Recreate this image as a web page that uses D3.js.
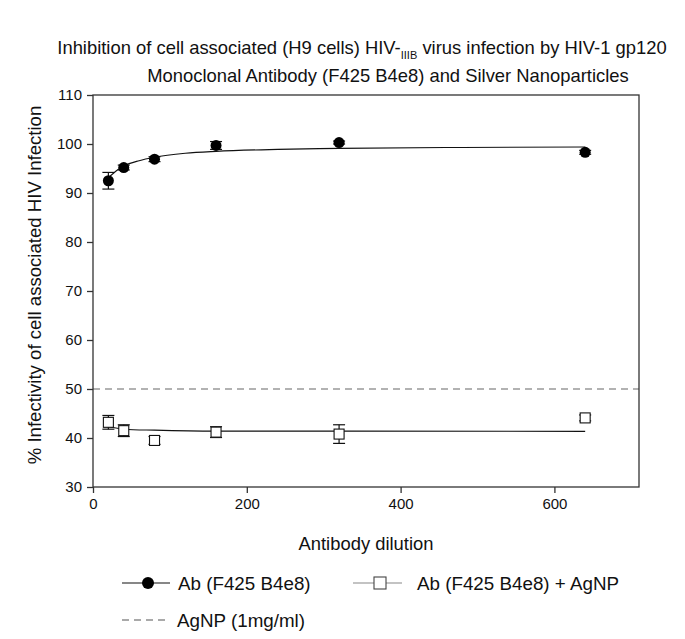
<!DOCTYPE html>
<html>
<head>
<meta charset="utf-8">
<script src="https://cdn.jsdelivr.net/npm/d3@7"></script>
<style>
  body { margin: 0; background: #fff; }
  text { font-family: "Liberation Sans", Arial, sans-serif; fill: #111; }
</style>
</head>
<body>
<div id="chart"></div>
<script>
// dilutions used for both series
var dilutions = [20, 40, 80, 160, 320, 640];

// antibody alone
var abMean = [92.5, 95.2, 96.9, 99.7, 100.3, 98.3];
var abErr  = [1.7, 0.5, 0.5, 0.8, 0.3, 0.4];
// antibody + AgNP
var agMean = [43.2, 41.5, 39.5, 41.2, 40.8, 44.1];
var agErr  = [1.4, 1.2, 0.8, 1.1, 1.9, 0.6];

// fitted curves
var abFitX = [20, 30, 40, 60, 80, 120, 160, 240, 320, 480, 640];
var abFitY = [93.1, 94.5, 95.5, 96.6, 97.3, 98.1, 98.5, 98.9, 99.1, 99.3, 99.4];
var agFitX = [20, 40, 80, 160, 320, 640];
var agFitY = [42.4, 41.8, 41.6, 41.4, 41.4, 41.35];

var agnpLevel = 50;

var yTicks = [30, 40, 50, 60, 70, 80, 90, 100, 110];
var xTicks = [0, 200, 400, 600];

var margin = {top: 95, right: 46, bottom: 152, left: 93}
  , width = 685 - margin.left - margin.right
  , height = 639 - margin.top - margin.bottom;

var svg = d3.select("#chart").append("svg")
    .attr("width", 685)
    .attr("height", 639);

var g = svg.append("g")
    .attr("transform", "translate(" + margin.left + "," + margin.top + ")");

var x = d3.scaleLinear().domain([0, 710]).range([0, width]);
var y = d3.scaleLinear().domain([30, 110]).range([height, 0]);

// title
var title = svg.append("text")
    .attr("text-anchor", "middle")
    .style("font-size", "18.4px");
var t1 = title.append("tspan").attr("x", 362).attr("y", 54);
t1.append("tspan").text("Inhibition of cell associated (H9 cells) HIV-");
t1.append("tspan").attr("dy", 5).style("font-size", "11px").text("IIIB");
t1.append("tspan").attr("dy", -5).text(" virus infection by HIV-1 gp120");
title.append("tspan").attr("x", 388).attr("y", 82)
    .text("Monoclonal Antibody (F425 B4e8) and Silver Nanoparticles");

// dashed AgNP reference
g.append("line")
    .attr("x1", 0).attr("x2", width)
    .attr("y1", y(agnpLevel)).attr("y2", y(agnpLevel))
    .attr("stroke", "#666").attr("stroke-width", 1.2)
    .attr("stroke-dasharray", "7,5");

// box
g.append("rect")
    .attr("width", width).attr("height", height)
    .attr("fill", "none").attr("stroke", "#333").attr("stroke-width", 1.3);

// axes
var yAxis = g.append("g")
    .call(d3.axisLeft(y).tickValues(yTicks).tickSize(6).tickSizeOuter(0));
var xAxis = g.append("g")
    .attr("transform", "translate(0," + height + ")")
    .call(d3.axisBottom(x).tickValues(xTicks).tickSize(6).tickSizeOuter(0));
[yAxis, xAxis].forEach(function(a) {
  a.select(".domain").remove();
  a.selectAll("line").attr("stroke", "#333").attr("stroke-width", 1.3);
  a.selectAll("text").style("font-size", "15px").attr("fill", "#111")
    .style("font-family", "'Liberation Sans', Arial, sans-serif");
});
yAxis.selectAll("text").attr("x", -11);
xAxis.selectAll("text").attr("y", 11);

// axis titles
svg.append("text")
    .attr("transform", "translate(41," + (margin.top + height / 2 - 6) + ") rotate(-90)")
    .attr("text-anchor", "middle")
    .style("font-size", "18.6px")
    .text("% Infectivity of cell associated HIV Infection");
svg.append("text")
    .attr("x", 366).attr("y", 550)
    .attr("text-anchor", "middle")
    .style("font-size", "18.4px")
    .text("Antibody dilution");

// fit lines
var line = d3.line()
    .x(function(d) { return x(d[0]); })
    .y(function(d) { return y(d[1]); })
    .curve(d3.curveMonotoneX);

g.append("path")
    .datum(d3.zip(abFitX, abFitY))
    .attr("d", line)
    .attr("fill", "none").attr("stroke", "#111").attr("stroke-width", 1.1);
g.append("path")
    .datum(d3.zip(agFitX, agFitY))
    .attr("d", line)
    .attr("fill", "none").attr("stroke", "#111").attr("stroke-width", 1.1);

// error bars
function errorBars(means, errs) {
  var eb = g.append("g").selectAll("g")
    .data(d3.zip(dilutions, means, errs))
    .enter().append("g")
      .attr("stroke", "#111").attr("stroke-width", 1.2);
  eb.append("line")
    .attr("x1", function(d) { return x(d[0]); })
    .attr("x2", function(d) { return x(d[0]); })
    .attr("y1", function(d) { return y(d[1] + d[2]); })
    .attr("y2", function(d) { return y(d[1] - d[2]); });
  [1, -1].forEach(function(s) {
    eb.append("line")
      .attr("x1", function(d) { return x(d[0]) - 6; })
      .attr("x2", function(d) { return x(d[0]) + 6; })
      .attr("y1", function(d) { return y(d[1] + s * d[2]); })
      .attr("y2", function(d) { return y(d[1] + s * d[2]); });
  });
}
errorBars(abMean, abErr);
errorBars(agMean, agErr);

// markers
g.append("g").selectAll("circle")
  .data(d3.zip(dilutions, abMean))
  .enter().append("circle")
    .attr("cx", function(d) { return x(d[0]); })
    .attr("cy", function(d) { return y(d[1]); })
    .attr("r", 5.5)
    .attr("fill", "#000");
g.append("g").selectAll("rect")
  .data(d3.zip(dilutions, agMean))
  .enter().append("rect")
    .attr("x", function(d) { return x(d[0]) - 5; })
    .attr("y", function(d) { return y(d[1]) - 5; })
    .attr("width", 10).attr("height", 10)
    .attr("fill", "#fff").attr("stroke", "#111").attr("stroke-width", 1.1);

// legend
var leg = svg.append("g");
leg.append("line").attr("x1", 122).attr("x2", 170).attr("y1", 583).attr("y2", 583)
    .attr("stroke", "#111").attr("stroke-width", 1.1);
leg.append("circle").attr("cx", 148).attr("cy", 583).attr("r", 6).attr("fill", "#000");
leg.append("text").attr("x", 178).attr("y", 590).style("font-size", "18.8px").text("Ab (F425 B4e8)");

leg.append("line").attr("x1", 353).attr("x2", 402).attr("y1", 583).attr("y2", 583)
    .attr("stroke", "#888").attr("stroke-width", 1.1);
leg.append("rect").attr("x", 374).attr("y", 577).attr("width", 12).attr("height", 12)
    .attr("fill", "#fff").attr("stroke", "#444").attr("stroke-width", 1.1);
leg.append("text").attr("x", 417).attr("y", 590).style("font-size", "18.8px").text("Ab (F425 B4e8) + AgNP");

leg.append("line").attr("x1", 122).attr("x2", 170).attr("y1", 620).attr("y2", 620)
    .attr("stroke", "#555").attr("stroke-width", 1.1).attr("stroke-dasharray", "7,5");
leg.append("text").attr("x", 177).attr("y", 627).style("font-size", "18.8px").text("AgNP (1mg/ml)");
</script>
</body>
</html>
